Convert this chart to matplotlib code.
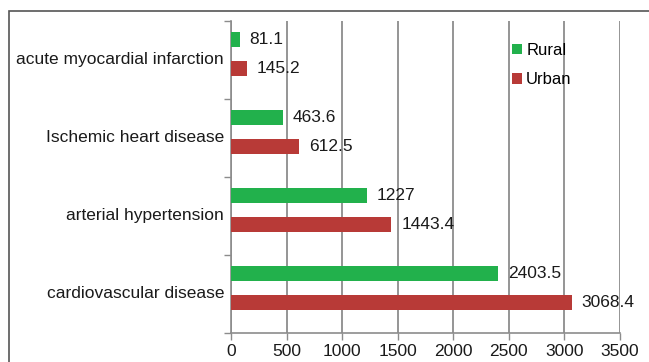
import matplotlib
matplotlib.use("Agg")
import matplotlib.pyplot as plt
from matplotlib.patches import Rectangle
import numpy as np

# data (bottom to top)
categories = ["cardiovascular disease", "arterial hypertension",
              "Ischemic heart disease", "acute myocardial infarction"]
rural = [2403.5, 1227, 463.6, 81.1]
urban = [3068.4, 1443.4, 612.5, 145.2]
xticks = [0, 500, 1000, 1500, 2000, 2500, 3000, 3500]

green = "#22b14c"
red = "#b83a37"
grid_col = "#8c8c8c"

plt.rcParams["font.family"] = ["Liberation Sans", "DejaVu Sans"]
plt.rcParams["font.size"] = 12.5

fig = plt.figure(figsize=(6.49, 3.62), dpi=100)
ax = fig.add_axes([231 / 649, 1 - 333 / 362, (620 - 231) / 649, (333 - 21) / 362])

y = np.arange(len(categories))
bar_h = 0.19
ax.barh(y + 0.265, rural, height=bar_h, color=green, label="Rural", zorder=3)
ax.barh(y - 0.105, urban, height=bar_h, color=red, label="Urban", zorder=3)

for yi, v in zip(y, rural):
    ax.annotate(f"{v:g}", (v, yi + 0.265), xytext=(7, 0), textcoords="offset points",
                va="center", ha="left", fontsize=12.5, color="#1a1a1a", zorder=4)
for yi, v in zip(y, urban):
    ax.annotate(f"{v:g}", (v, yi - 0.105), xytext=(7, 0), textcoords="offset points",
                va="center", ha="left", fontsize=12.5, color="#1a1a1a", zorder=4)

ax.set_xlim(0, 3500)
ax.set_ylim(-0.5, 3.5)
ax.set_xticks(xticks)
ax.set_xticklabels([str(t) for t in xticks])

# category labels between boundary ticks
ax.set_yticks(np.arange(-0.5, 4, 1))
ax.set_yticklabels([])
ax.set_yticks(y + 0.03, minor=True)
ax.set_yticklabels(categories, minor=True)
ax.tick_params(axis="y", which="minor", length=0, pad=5, labelcolor="#1a1a1a")
ax.tick_params(axis="y", which="major", length=5, color=grid_col, width=1)
ax.tick_params(axis="x", length=5, color=grid_col, width=1, pad=3, labelcolor="#1a1a1a")

ax.xaxis.grid(True, color=grid_col, linewidth=1.3, zorder=0)
ax.set_axisbelow(True)
for s in ["top", "right"]:
    ax.spines[s].set_visible(False)
for s in ["left", "bottom"]:
    ax.spines[s].set_color(grid_col)
    ax.spines[s].set_linewidth(1.2)

ax.legend(loc="upper left", bbox_to_anchor=(512 / 649, 1 - 43 / 362),
          bbox_transform=fig.transFigure, frameon=False,
          handlelength=0.6, handleheight=0.6, handletextpad=0.25,
          labelspacing=0.85, fontsize=12, borderaxespad=0, borderpad=0)

# outer frame, clipped at right and bottom
fig.patches.append(Rectangle((9 / 649, -0.1), 1.1, 1 - 11 / 362 + 0.1,
                             transform=fig.transFigure, fill=False,
                             edgecolor="#555555", linewidth=1.2))

fig.savefig("out.png", dpi=100)
